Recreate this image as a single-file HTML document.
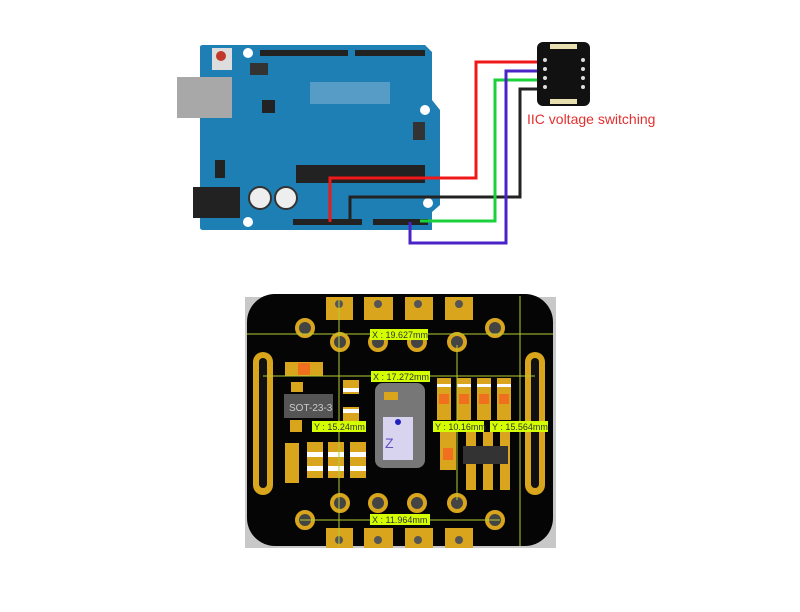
<!DOCTYPE html>
<html><head><style>
body{margin:0;width:800px;height:607px;background:#fff;overflow:hidden;font-family:"Liberation Sans",sans-serif}
</style></head><body>
<svg width="800" height="607" xmlns="http://www.w3.org/2000/svg" font-family="Liberation Sans, sans-serif">
<!-- Arduino -->
<path d="M200 47 Q200 45 203 45 L425 45 L432 52 L432 100 L440 110 L440 205 L432 212 L432 230 L203 230 Q200 230 200 227 Z" fill="#1d7fb3"/>
<rect x="177" y="77" width="55" height="41" fill="#a8a8a8"/>
<rect x="193" y="187" width="47" height="31" fill="#222"/>
<rect x="212" y="48" width="20" height="22" fill="#ddd"/><circle cx="221" cy="56" r="5" fill="#c0392b"/>
<rect x="260" y="50" width="88" height="6" fill="#222"/><rect x="355" y="50" width="70" height="6" fill="#222"/>
<rect x="250" y="63" width="18" height="12" fill="#333"/>
<rect x="310" y="82" width="80" height="22" fill="#6fa8cf" opacity="0.7"/>
<rect x="262" y="100" width="13" height="13" fill="#222"/>
<rect x="413" y="122" width="12" height="18" fill="#333"/>
<rect x="215" y="160" width="10" height="18" fill="#222"/>
<rect x="296" y="165" width="129" height="18" fill="#222"/>
<circle cx="260" cy="198" r="11" fill="#eee" stroke="#333" stroke-width="2"/><circle cx="286" cy="198" r="11" fill="#eee" stroke="#333" stroke-width="2"/>
<rect x="293" y="219" width="69" height="6" fill="#222"/><rect x="373" y="219" width="55" height="6" fill="#222"/>
<circle cx="425" cy="110" r="5" fill="#fff"/><circle cx="428" cy="203" r="5" fill="#fff"/><circle cx="248" cy="53" r="5" fill="#fff"/><circle cx="248" cy="222" r="5" fill="#fff"/>
<!-- wires -->
<g fill="none" stroke-width="3">
<polyline points="330,222 330,178 476,178 476,62 540,62" stroke="#f01818"/>
<polyline points="350,222 350,197 520,197 520,89 540,89" stroke="#222"/>
<polyline points="420,221 495,221 495,80 540,80" stroke="#1ad13a"/>
<polyline points="410,222 410,243 506,243 506,71 540,71" stroke="#4a23c8"/>
</g>
<!-- sensor -->
<rect x="537" y="42" width="53" height="64" rx="6" fill="#111"/>
<rect x="550" y="44" width="27" height="5" fill="#e8e0b0"/><rect x="550" y="99" width="27" height="5" fill="#e8e0b0"/>
<g fill="#ddd"><circle cx="545" cy="60" r="2"/><circle cx="545" cy="69" r="2"/><circle cx="545" cy="78" r="2"/><circle cx="545" cy="87" r="2"/><circle cx="583" cy="60" r="2"/><circle cx="583" cy="69" r="2"/><circle cx="583" cy="78" r="2"/><circle cx="583" cy="87" r="2"/></g>
<text x="527" y="124" font-size="14" fill="#e3302f">IIC voltage switching</text>
<!-- PCB -->
<rect x="245" y="297" width="311" height="251" fill="#c8c8c8"/>
<rect x="247" y="294" width="306" height="252" rx="28" fill="#050505"/>
<g fill="#d8a51c">
<rect x="326" y="297" width="27" height="23"/><rect x="364" y="297" width="29" height="23"/><rect x="405" y="297" width="28" height="23"/><rect x="445" y="297" width="28" height="23"/>
<rect x="326" y="528" width="27" height="20"/><rect x="364" y="528" width="29" height="20"/><rect x="405" y="528" width="28" height="20"/><rect x="445" y="528" width="28" height="20"/>
<rect x="253" y="352" width="20" height="143" rx="10"/><rect x="525" y="352" width="20" height="143" rx="10"/>
<rect x="285" y="362" width="38" height="14"/>
<rect x="437" y="378" width="14" height="42"/><rect x="457" y="378" width="14" height="42"/><rect x="477" y="378" width="14" height="42"/><rect x="497" y="378" width="14" height="42"/>
<rect x="440" y="432" width="16" height="38"/>
<rect x="466" y="432" width="10" height="58"/><rect x="483" y="432" width="10" height="58"/><rect x="500" y="432" width="10" height="58"/>
<rect x="285" y="443" width="14" height="40"/>
<rect x="307" y="442" width="16" height="36"/><rect x="328" y="442" width="16" height="36"/><rect x="350" y="442" width="16" height="36"/>
<rect x="343" y="380" width="16" height="14"/><rect x="343" y="407" width="16" height="14"/>
<rect x="291" y="382" width="12" height="10"/><rect x="290" y="420" width="12" height="12"/>
</g>
<g fill="#fff"><rect x="307" y="452" width="16" height="5"/><rect x="328" y="452" width="16" height="5"/><rect x="350" y="452" width="16" height="5"/><rect x="307" y="466" width="16" height="5"/><rect x="328" y="466" width="16" height="5"/><rect x="350" y="466" width="16" height="5"/>
<rect x="437" y="384" width="14" height="3"/><rect x="457" y="384" width="14" height="3"/><rect x="477" y="384" width="14" height="3"/><rect x="497" y="384" width="14" height="3"/>
<rect x="343" y="388" width="16" height="4"/><rect x="343" y="409" width="16" height="4"/></g>
<g fill="#111"><rect x="259" y="358" width="8" height="130" rx="4"/><rect x="531" y="358" width="8" height="130" rx="4"/></g>
<g fill="#f07020"><rect x="298" y="363" width="12" height="12"/><rect x="439" y="394" width="10" height="10"/><rect x="459" y="394" width="10" height="10"/><rect x="479" y="394" width="10" height="10"/><rect x="499" y="394" width="10" height="10"/><rect x="443" y="448" width="10" height="12"/></g>
<g fill="#444" stroke="#d8a51c" stroke-width="4">
<circle cx="340" cy="342" r="8"/><circle cx="378" cy="342" r="8"/><circle cx="417" cy="342" r="8"/><circle cx="457" cy="342" r="8"/>
<circle cx="305" cy="328" r="8"/><circle cx="495" cy="328" r="8"/>
<circle cx="340" cy="503" r="8"/><circle cx="378" cy="503" r="8"/><circle cx="417" cy="503" r="8"/><circle cx="457" cy="503" r="8"/>
<circle cx="305" cy="520" r="8"/><circle cx="495" cy="520" r="8"/>
</g>
<g fill="#555"><circle cx="339" cy="304" r="4"/><circle cx="378" cy="304" r="4"/><circle cx="418" cy="304" r="4"/><circle cx="459" cy="304" r="4"/><circle cx="339" cy="540" r="4"/><circle cx="378" cy="540" r="4"/><circle cx="418" cy="540" r="4"/><circle cx="459" cy="540" r="4"/></g>
<rect x="284" y="394" width="49" height="24" fill="#555"/><text x="289" y="411" font-size="10" fill="#ccc">SOT-23-3</text>
<rect x="463" y="446" width="45" height="18" fill="#333"/>
<rect x="375" y="383" width="50" height="85" rx="8" fill="#777"/>
<rect x="383" y="417" width="30" height="43" fill="#d8d4f0"/><circle cx="398" cy="422" r="3" fill="#2020c0"/>
<text x="385" y="448" font-size="14" fill="#6050c0">Z</text>
<rect x="384" y="392" width="14" height="8" fill="#d8a51c"/>
<g stroke="#b5cc33" stroke-width="1">
<line x1="247" y1="334" x2="553" y2="334"/><line x1="263" y1="376" x2="535" y2="376"/><line x1="300" y1="520" x2="500" y2="520"/>
<line x1="339" y1="300" x2="339" y2="546"/><line x1="457" y1="345" x2="457" y2="500"/><line x1="520" y1="296" x2="520" y2="546"/>
</g>
<g fill="#d4ff00"><rect x="370" y="329" width="58" height="11"/><rect x="371" y="371" width="59" height="11"/><rect x="312" y="421" width="54" height="11"/><rect x="433" y="421" width="51" height="11"/><rect x="490" y="421" width="58" height="11"/><rect x="370" y="514" width="60" height="11"/></g>
<g font-size="9" fill="#333">
<text x="372" y="338">X : 19.627mm</text><text x="373" y="380">X : 17.272mm</text><text x="314" y="430">Y : 15.24mm</text><text x="435" y="430">Y : 10.16mm</text><text x="492" y="430">Y : 15.564mm</text><text x="372" y="523">X : 11.964mm</text>
</g>
</svg>
</body></html>
